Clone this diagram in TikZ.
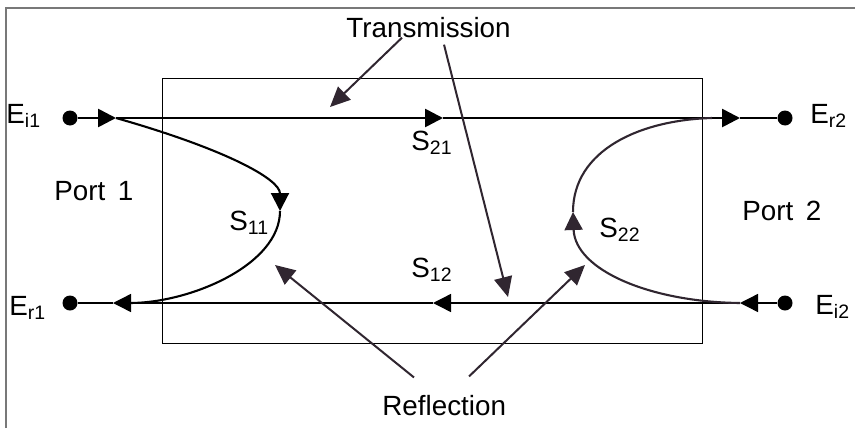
\documentclass[tikz,border=0pt]{standalone}
\usepackage{fontspec}
\setmainfont{Liberation Sans}
\usetikzlibrary{arrows.meta}
\definecolor{ink}{RGB}{48,38,48}
\definecolor{framegray}{RGB}{120,120,120}
\newcommand{\lblfont}{\fontsize{13.9}{16}\selectfont}

\begin{document}
\begin{tikzpicture}[x=0.5pt,y=-0.5pt,font=\lblfont,>={Triangle[length=9pt,width=9pt]},
  port/.style={circle,fill,inner sep=0pt,minimum size=7.5pt},
  lbl/.style={inner sep=0pt,anchor=base west},
  mainline/.style={line width=1.35pt},
  backline/.style={line width=0.7pt},
  bendline/.style={line width=1.05pt},
  note/.style={ink,line width=1pt,-{Triangle[length=10pt,width=9pt]}}]
\useasboundingbox (0,0) rectangle (855,428);
% frame (cropped, only top and left edges)
\draw[framegray,line width=1pt] (5.5,428) -- (5.5,7.5) -- (855,7.5);
% two-port network
\node[draw,line width=0.5pt,inner sep=0pt,minimum width=270pt,minimum height=132.5pt] (net) at (432,210.5) {};
% ports
\node[port] (ei1) at (70,118) {};
\node[port] (er2) at (785,118) {};
\node[port] (er1) at (70,303) {};
\node[port] (ei2) at (785,303) {};
\node[lbl] (lei1) at (6,123) {E\textsubscript{i1}};
\node[lbl] (ler1) at (9,315) {E\textsubscript{r1}};
\node[lbl] (ler2) at (810,123) {E\textsubscript{r2}};
\node[lbl] (lei2) at (815,314) {E\textsubscript{i2}};
\node[lbl] (p1) at (54,200) {Port\hspace{.45em}1};
\node[lbl] (p2) at (742,220) {Port\hspace{.45em}2};
\node[lbl] (s11) at (229,230) {S\textsubscript{11}};
\node[lbl] (s22) at (599,237) {S\textsubscript{22}};
\node[lbl] (s21) at (411,150) {S\textsubscript{21}};
\node[lbl] (s12) at (411,277) {S\textsubscript{12}};
\node[lbl] (trans) at (346,37) {Transmission};
\node[lbl] (refl) at (382,415) {Reflection};
% arrow tips and joins
\coordinate (t1) at (116,118);
\coordinate (t2) at (443,118);
\coordinate (t3) at (740,118);
\coordinate (j2) at (712,118);
\coordinate (b1) at (113,303);
\coordinate (j1) at (130,303);
\coordinate (b2) at (433,303);
\coordinate (b3) at (740,303);
\coordinate (v1) at (280,211);
\coordinate (v2) at (573,212);
\coordinate (tx1) at (330,107);
\coordinate (tx2) at (508,297);
\coordinate (rx1) at (275,265);
\coordinate (rx2) at (585,265);
% forward line
\draw[mainline,->] (ei1) -- (t1);
\draw[mainline,->] (t1) -- (t2);
\draw[mainline,->] (t2) -- (t3);
\draw[mainline] (t3) -- (er2);
% backward line
\draw[backline,->] (ei2) -- (b3);
\draw[backline,->] (b3) -- (b2);
\draw[backline,->] (b2) -- (b1);
\draw[backline] (b1) -- (er1);
% reflections
\draw[bendline,->] (t1) .. controls (225,149) and (280,179) .. (v1);
\draw[bendline] (v1) .. controls (280,265) and (190,303) .. (j1);
\draw[bendline,ink,->] (b3) .. controls (650,302) and (575,270) .. (v2);
\draw[bendline,ink] (v2) .. controls (573,150) and (640,120) .. (j2);
% annotations
\draw[note] ([xshift=28pt]trans.south west) -- (tx1);
\draw[note] ([xshift=49pt,yshift=-3.5pt]trans.south west) -- (tx2);
\draw[note] ([xshift=16pt,yshift=8.5pt]refl.north west) -- (rx1);
\draw[note] ([xshift=43.5pt,yshift=9pt]refl.north west) -- (rx2);
\end{tikzpicture}
\end{document}
